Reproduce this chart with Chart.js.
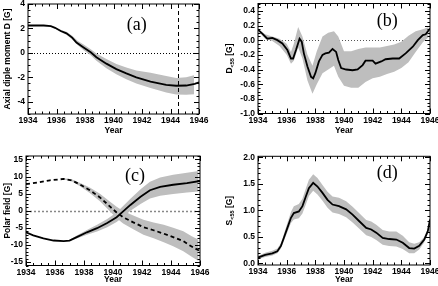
<!DOCTYPE html>
<html><head><meta charset="utf-8">
<script src="https://cdn.jsdelivr.net/npm/chart.js@4"></script>
<style>
html,body{margin:0;padding:0;background:#fff;}
#wrap{position:relative;width:438px;height:286px;overflow:hidden;}
#wrap canvas{position:absolute;left:0;top:0;}
</style></head><body>
<div id="wrap">
<canvas id="ca" width="438" height="286"></canvas>
<canvas id="cb" width="438" height="286"></canvas>
<canvas id="cc" width="438" height="286"></canvas>
<canvas id="cd" width="438" height="286"></canvas>
</div>
<script>
// ---------- data ----------
const xTicks = [1934, 1936, 1938, 1940, 1942, 1944, 1946];

// (a) axial dipole moment
const yearsA  = [1934.0,1935.1,1935.6,1935.9,1936.3,1936.7,1937.1,1937.4,1937.9,1938.4,1938.8,1939.5,1940.2,1940.9,1941.6,1942.6,1943.7,1944.4,1945.1,1945.7,1946.0];
const dipoleA = [2.24,2.24,2.19,2.05,1.79,1.6,1.25,0.85,0.45,0.05,-0.35,-0.88,-1.33,-1.68,-2.0,-2.35,-2.61,-2.69,-2.67,-2.53,-2.4];
const bandYearsA = [1935.8,1936.3,1936.7,1937.1,1937.5,1937.9,1938.4,1938.8,1939.5,1940.2,1940.9,1941.6,1942.6,1943.7,1944.4,1945.1,1945.65];
const bandHiA = [2.1,1.88,1.72,1.4,0.98,0.68,0.3,-0.05,-0.5,-0.9,-1.2,-1.45,-1.62,-1.9,-2.05,-2.0,-1.82];
const bandLoA = [2.06,1.7,1.48,1.1,0.62,0.22,-0.2,-0.65,-1.25,-1.75,-2.15,-2.5,-2.88,-3.25,-3.4,-3.42,-3.38];
const markerYearA = 1944.5;
const yTicksA = [-4, -2, 0, 2, 4];

// (b) D<55
const yearsB = [1934.0,1934.3,1934.65,1935.0,1935.35,1935.7,1936.05,1936.3,1936.45,1936.65,1936.9,1937.05,1937.2,1937.45,1937.7,1937.85,1938.0,1938.25,1938.5,1938.7,1938.95,1939.2,1939.45,1939.6,1939.8,1940.15,1940.6,1940.95,1941.3,1941.5,1942.0,1942.2,1942.6,1942.9,1943.4,1943.85,1944.3,1944.8,1945.15,1945.5,1945.7,1946.0];
const dlowB  = [0.144,0.09,0.02,0.03,0.0,-0.045,-0.135,-0.25,-0.25,-0.135,0.02,-0.02,-0.18,-0.36,-0.5,-0.52,-0.45,-0.29,-0.2,-0.18,-0.17,-0.12,-0.16,-0.27,-0.38,-0.4,-0.41,-0.4,-0.34,-0.28,-0.28,-0.32,-0.29,-0.26,-0.25,-0.25,-0.18,-0.09,0.0,0.07,0.08,0.16];
const bandYearsB = [1934.0,1934.5,1935.0,1935.5,1936.0,1936.3,1936.5,1936.8,1937.1,1937.45,1937.8,1938.1,1938.5,1938.9,1939.3,1939.6,1940.0,1940.5,1941.0,1941.5,1942.0,1942.5,1943.0,1943.5,1944.0,1944.5,1945.0,1945.5,1945.9];
const bandHiB = [0.15,0.08,0.05,0.02,-0.05,-0.16,-0.05,0.18,0.05,-0.2,-0.35,-0.15,0.05,0.1,0.12,0.05,-0.15,-0.15,-0.12,-0.1,-0.1,-0.1,-0.08,-0.06,-0.02,0.06,0.12,0.15,0.18];
const bandLoB = [0.13,0.02,-0.01,-0.08,-0.2,-0.32,-0.28,-0.1,-0.25,-0.55,-0.73,-0.6,-0.45,-0.4,-0.35,-0.5,-0.62,-0.65,-0.65,-0.57,-0.52,-0.5,-0.46,-0.43,-0.38,-0.3,-0.16,-0.03,0.04];
const yTicksB = [-1.0,-0.8,-0.6,-0.4,-0.2,0.0,0.2,0.4];

// (c) polar fields (north solid, south dashed)
const yearsC = [1934.0,1934.5,1935.2,1935.9,1936.6,1937.0,1937.5,1938.2,1938.9,1939.6,1940.25,1940.7,1941.2,1941.9,1942.55,1943.25,1944.15,1945.1,1946.0];
const northC = [-6.3,-7.2,-8.1,-8.7,-8.9,-8.7,-7.7,-6.3,-5.1,-3.6,-1.9,-0.2,1.7,4.1,6.0,7.0,7.6,8.1,8.7];
const bandYearsNC = [1937.0,1937.5,1938.2,1938.9,1939.6,1940.25,1940.7,1941.2,1941.9,1942.55,1943.25,1944.15,1945.1,1945.9];
const bandHiNC = [-8.5,-7.2,-5.6,-4.1,-2.4,-0.5,1.4,3.5,6.3,8.5,9.7,10.5,11.1,11.6];
const bandLoNC = [-8.9,-8.1,-7.0,-6.1,-4.8,-3.3,-1.8,0.0,2.0,3.6,4.4,4.9,5.3,5.6];
const yearsSC = [1934.0,1934.75,1935.65,1936.6,1937.15,1937.7,1938.4,1939.1,1939.8,1940.25,1940.7,1941.4,1942.1,1942.8,1943.5,1944.15,1944.85,1945.4,1946.0];
const southC = [7.8,8.2,8.9,9.3,8.9,7.7,6.0,3.9,1.2,-0.5,-1.9,-3.4,-4.8,-5.7,-6.7,-7.7,-8.9,-10.4,-11.8];
const bandYearsSC = [1936.6,1937.15,1937.7,1938.4,1939.1,1939.8,1940.25,1940.7,1941.4,1942.1,1942.8,1943.5,1944.15,1944.85,1945.4,1945.9];
const bandHiSC = [9.5,9.2,8.2,6.8,5.0,2.6,1.2,-0.1,-1.4,-2.6,-3.4,-4.1,-5.0,-6.0,-7.4,-8.5];
const bandLoSC = [9.1,8.6,7.2,5.2,2.8,-0.2,-2.2,-3.7,-5.4,-7.0,-8.0,-9.2,-10.4,-11.8,-13.4,-14.7];
const yTicksC = [-15,-10,-5,0,5,10,15];

// (d) S<55
const yearsD = [1934,1934.5,1935,1935.35,1935.6,1935.8,1936.05,1936.3,1936.5,1936.85,1937.1,1937.35,1937.55,1937.85,1938.15,1938.5,1938.85,1939.2,1939.65,1940.15,1940.6,1941.05,1941.55,1941.9,1942.25,1942.7,1943.15,1943.65,1944.1,1944.55,1944.9,1945.25,1945.6,1945.85,1946];
const slowD  = [0.11,0.16,0.19,0.23,0.33,0.48,0.67,0.86,0.95,0.98,1.08,1.27,1.42,1.52,1.45,1.33,1.2,1.11,1.08,1.02,0.92,0.8,0.67,0.64,0.58,0.48,0.46,0.45,0.39,0.29,0.28,0.33,0.45,0.61,0.83];
const bandHiD = [0.14,0.2,0.24,0.28,0.38,0.55,0.76,0.97,1.08,1.12,1.22,1.42,1.58,1.68,1.61,1.48,1.35,1.26,1.24,1.17,1.07,0.95,0.82,0.79,0.73,0.63,0.6,0.6,0.52,0.4,0.37,0.4,0.5,0.66,0.86];
const bandLoD = [0.08,0.12,0.15,0.19,0.28,0.42,0.59,0.76,0.83,0.85,0.94,1.12,1.27,1.37,1.3,1.18,1.05,0.96,0.93,0.87,0.77,0.66,0.53,0.5,0.44,0.35,0.33,0.32,0.27,0.19,0.19,0.26,0.4,0.56,0.8];
const yTicksD = [0.0,0.5,1.0,1.5,2.0];

// ---------- helpers ----------
const FAM = '"Liberation Sans", Arial, sans-serif';
const FONT = {family: FAM, size: 8.5, weight: 'bold'};
const GRAY = 'rgb(190,190,190)';
const NONE = 'rgba(0,0,0,0)';
function pts(xs, ys){ return xs.map((x,i)=>({x:x, y:ys[i]})); }
function band(xs, hi, lo){
  return [
    {data: pts(xs,hi), borderColor: NONE, borderWidth: 0, backgroundColor: GRAY, fill: '+1', order: 2},
    {data: pts(xs,lo), borderColor: NONE, borderWidth: 0, fill: false, order: 2}
  ];
}
function line(xs, ys, dash){
  return {data: pts(xs,ys), borderColor: '#000', borderWidth: 1.8, borderDash: dash || [], fill: false, order: 0};
}

function makeChart(id, c){
  const pad = {left: c.L - c.yW, right: 438 - c.R, top: c.T, bottom: 286 - c.B - c.xH};
  const plugin = {
    id: 'deco_' + id,
    beforeDatasetsDraw(chart){
      const ctx = chart.ctx, a = chart.chartArea, ys = chart.scales.y;
      if (c.zero){
        const py = Math.round(ys.getPixelForValue(0)) + 0.5;
        ctx.save();
        ctx.strokeStyle = c.zero.color; ctx.lineWidth = c.zero.width;
        ctx.setLineDash(c.zero.dash);
        ctx.beginPath(); ctx.moveTo(a.left, py); ctx.lineTo(a.right, py); ctx.stroke();
        ctx.restore();
      }
    },
    afterDatasetsDraw(chart){
      const ctx = chart.ctx, a = chart.chartArea, xs = chart.scales.x;
      if (c.vline !== undefined){
        const px = Math.round(xs.getPixelForValue(c.vline)) + 0.5;
        ctx.save();
        ctx.strokeStyle = '#000'; ctx.lineWidth = 1; ctx.setLineDash([4,3]);
        ctx.beginPath(); ctx.moveTo(px, a.top); ctx.lineTo(px, a.bottom); ctx.stroke();
        ctx.restore();
      }
    },
    afterDraw(chart){
      const ctx = chart.ctx, a = chart.chartArea, xs = chart.scales.x, ys = chart.scales.y;
      ctx.save();
      ctx.strokeStyle = '#000'; ctx.lineWidth = 1;
      ctx.strokeRect(a.left, a.top, a.right - a.left, a.bottom - a.top);
      ctx.beginPath();
      for (let k = 0; k <= 24; k++){
        const v = 1934 + k*0.5;
        const px = Math.round(xs.getPixelForValue(v)) + 0.5;
        const len = (k % 4 === 0) ? 5 : 2.5;
        ctx.moveTo(px, a.bottom); ctx.lineTo(px, a.bottom - len);
        ctx.moveTo(px, a.top); ctx.lineTo(px, a.top + len);
      }
      const lo = Math.ceil((ys.min - 1e-9) / c.yMinor), hi = Math.floor((ys.max + 1e-9) / c.yMinor);
      for (let k = lo; k <= hi; k++){
        const v = k * c.yMinor;
        const py = Math.round(ys.getPixelForValue(v)) + 0.5;
        const major = c.yTicks.some(t => Math.abs(t - v) < 1e-6);
        const len = major ? 5 : 2.5;
        ctx.moveTo(a.left, py); ctx.lineTo(a.left + len, py);
        ctx.moveTo(a.right, py); ctx.lineTo(a.right - len, py);
      }
      ctx.stroke();
      ctx.fillStyle = '#000';
      ctx.font = '18px "Liberation Serif", "DejaVu Serif", serif';
      ctx.textAlign = 'center'; ctx.textBaseline = 'middle';
      ctx.fillText(c.panel, a.left + c.panelPos[0]*(a.right-a.left), a.top + c.panelPos[1]*(a.bottom-a.top));
      ctx.translate(c.yTitleX, (a.top + a.bottom)/2);
      ctx.rotate(-Math.PI/2);
      ctx.textBaseline = 'middle'; ctx.textAlign = 'left';
      let total = 0;
      c.yTitle.forEach(s => { ctx.font = 'bold ' + s.size + 'px ' + FAM; total += ctx.measureText(s.t).width; });
      let x = -total/2;
      c.yTitle.forEach(s => {
        ctx.font = 'bold ' + s.size + 'px ' + FAM;
        ctx.fillText(s.t, x, s.dy || 0);
        x += ctx.measureText(s.t).width;
      });
      ctx.restore();
    }
  };
  return new Chart(document.getElementById(id), {
    type: 'line',
    data: {datasets: c.datasets},
    options: {
      responsive: false, animation: false, devicePixelRatio: 1,
      layout: {padding: pad},
      elements: {point: {radius: 0}, line: {tension: 0}},
      plugins: {legend: {display: false}, tooltip: {enabled: false}},
      scales: {
        x: {
          type: 'linear', min: 1934, max: 1946,
          afterBuildTicks: s => { s.ticks = xTicks.map(v => ({value: v})); },
          afterFit: s => { s.height = c.xH; s.paddingLeft = 0; s.paddingRight = 0; },
          grid: {display: false, drawTicks: false}, border: {display: false},
          ticks: {autoSkip: false, maxRotation: 0, minRotation: 0, padding: 2, color: '#000', font: FONT, callback: v => String(v)},
          title: {display: true, text: 'Year', color: '#000', font: FONT, padding: {top: 0, bottom: c.yearPad}}
        },
        y: {
          type: 'linear', min: c.yMin, max: c.yMax,
          afterBuildTicks: s => { s.ticks = c.yTicks.map(v => ({value: v})); },
          afterFit: s => { s.width = c.yW; s.paddingTop = 0; s.paddingBottom = 0; },
          grid: {display: false, drawTicks: false}, border: {display: false},
          ticks: {padding: 3, color: '#000', font: FONT, callback: c.yFmt},
          title: {display: false}
        }
      }
    },
    plugins: [plugin]
  });
}

makeChart('ca', {
  L: 28, R: 199, T: 4, B: 114, yW: 28, xH: 22, yearPad: 0,
  yMin: -5, yMax: 4, yTicks: yTicksA, yMinor: 0.5, yFmt: v => String(v),
  datasets: [line(yearsA, dipoleA)].concat(band(bandYearsA, bandHiA, bandLoA)),
  zero: {color: '#000', width: 1, dash: [1,2]}, vline: markerYearA,
  panel: '(a)', panelPos: [0.636, 0.19],
  yTitleX: 8, yTitle: [{t: 'Axial diple moment D [G]', size: 8.5}]
});
makeChart('cb', {
  L: 258, R: 430, T: 3.5, B: 113.5, yW: 39, xH: 22, yearPad: 0,
  yMin: -1.0, yMax: 0.5, yTicks: yTicksB, yMinor: 0.05, yFmt: v => v.toFixed(1),
  datasets: [line(yearsB, dlowB)].concat(band(bandYearsB, bandHiB, bandLoB)),
  zero: {color: '#555', width: 1, dash: [1,2]},
  panel: '(b)', panelPos: [0.752, 0.165],
  yTitleX: 230, yTitle: [{t: 'D', size: 8.5}, {t: '<55', size: 5.5, dy: 2}, {t: ' [G]', size: 8.5}]
});
makeChart('cc', {
  L: 26, R: 200, T: 156, B: 265.5, yW: 26, xH: 20.5, yearPad: 1,
  yMin: -16, yMax: 16, yTicks: yTicksC, yMinor: 1, yFmt: v => String(v),
  datasets: [line(yearsC, northC), line(yearsSC, southC, [4,3])]
    .concat(band(bandYearsNC, bandHiNC, bandLoNC))
    .concat(band(bandYearsSC, bandHiSC, bandLoSC)),
  zero: {color: '#888', width: 1.5, dash: [2,2]},
  panel: '(c)', panelPos: [0.626, 0.185],
  yTitleX: 8, yTitle: [{t: 'Polar field [G]', size: 8.5}]
});
makeChart('cd', {
  L: 258, R: 430, T: 156.3, B: 265, yW: 39, xH: 21, yearPad: 1,
  yMin: -0.03, yMax: 2.02, yTicks: yTicksD, yMinor: 0.1, yFmt: v => v.toFixed(1),
  datasets: [line(yearsD, slowD)].concat(band(yearsD, bandHiD, bandLoD)),
  panel: '(d)', panelPos: [0.752, 0.155],
  yTitleX: 230, yTitle: [{t: 'S', size: 8.5}, {t: '<55', size: 5.5, dy: 2}, {t: ' [G]', size: 8.5}]
});
</script>
</body></html>
